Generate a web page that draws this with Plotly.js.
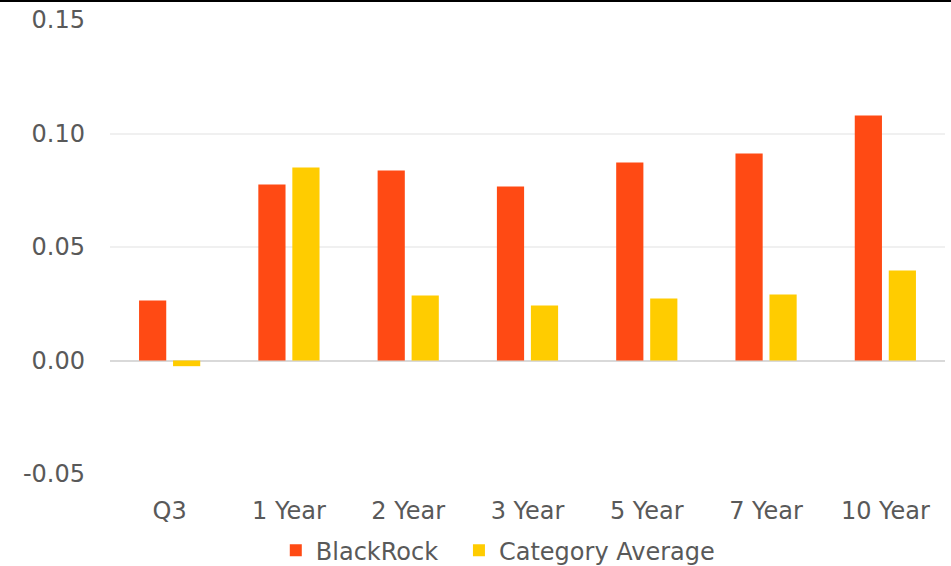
<!DOCTYPE html>
<html>
<head>
<meta charset="utf-8">
<script src="https://cdn.plot.ly/plotly-3.0.1.min.js"></script>
<style>
  html, body { margin: 0; padding: 0; background: #fff; }
  #wrap { position: relative; width: 951px; height: 566px; }
  #topRule { position: absolute; left: 0; top: 0; width: 951px; height: 2px; background: #000; z-index: 5; }
  #chart { width: 951px; height: 566px; }
</style>
</head>
<body>
<div id="wrap">
  <div id="topRule"></div>
  <div id="chart"></div>
</div>
<script>
// Return periods shown along the x axis
const periods = ["Q3", "1 Year", "2 Year", "3 Year", "5 Year", "7 Year", "10 Year"];

// Annualised returns per period
const blackrock = [0.0264, 0.0775, 0.0837, 0.0767, 0.0872, 0.0912, 0.1079];
const categoryAverage = [-0.0025, 0.0850, 0.0286, 0.0242, 0.0273, 0.0291, 0.0396];

const yTicks = [-0.05, 0, 0.05, 0.10, 0.15];
const yTickText = ["-0.05", "0.00", "0.05", "0.10", "0.15"];

const fontFamily = "'DejaVu Sans', Verdana, sans-serif";
const textGrey = "#595959";

const traces = [
  {
    type: "bar",
    name: "BlackRock",
    x: periods,
    y: blackrock,
    marker: { color: "#FF4A14" },
    legend: "legend",
    hoverinfo: "x+y"
  },
  {
    type: "bar",
    name: "Category Average",
    x: periods,
    y: categoryAverage,
    marker: { color: "#FFCC00" },
    legend: "legend2",
    hoverinfo: "x+y"
  }
];

// Shared styling for the two legend boxes along the bottom
function legendBox(xPos) {
  return {
    orientation: "h",
    xref: "container",
    yref: "container",
    x: xPos,
    xanchor: "left",
    y: 0.027,
    yanchor: "middle",
    font: { family: fontFamily, size: 24, color: textGrey },
    itemwidth: 30
  };
}

const layout = {
  width: 951,
  height: 566,
  margin: { l: 110, r: 6, t: 20, b: 92 },
  paper_bgcolor: "#fff",
  plot_bgcolor: "#fff",
  font: { family: fontFamily, size: 24, color: textGrey },
  barmode: "group",
  bargap: 0.43,
  bargroupgap: 0.2,
  showlegend: true,
  legend: legendBox(0.29),
  legend2: legendBox(0.4826),
  xaxis: {
    type: "category",
    showgrid: false,
    showline: false,
    ticks: "",
    tickfont: { family: fontFamily, size: 24, color: textGrey },
    ticklabelstandoff: 20
  },
  yaxis: {
    range: [-0.05, 0.15],
    tickvals: yTicks,
    ticktext: yTickText,
    showgrid: true,
    gridcolor: "#F0F0F0",
    gridwidth: 2,
    zeroline: true,
    zerolinecolor: "#D9D9D9",
    zerolinewidth: 2,
    showline: false,
    ticks: "",
    tickfont: { family: fontFamily, size: 24, color: textGrey },
    ticklabelstandoff: 24
  }
};

Plotly.newPlot("chart", traces, layout, { displayModeBar: false, staticPlot: true });
</script>
</body>
</html>
